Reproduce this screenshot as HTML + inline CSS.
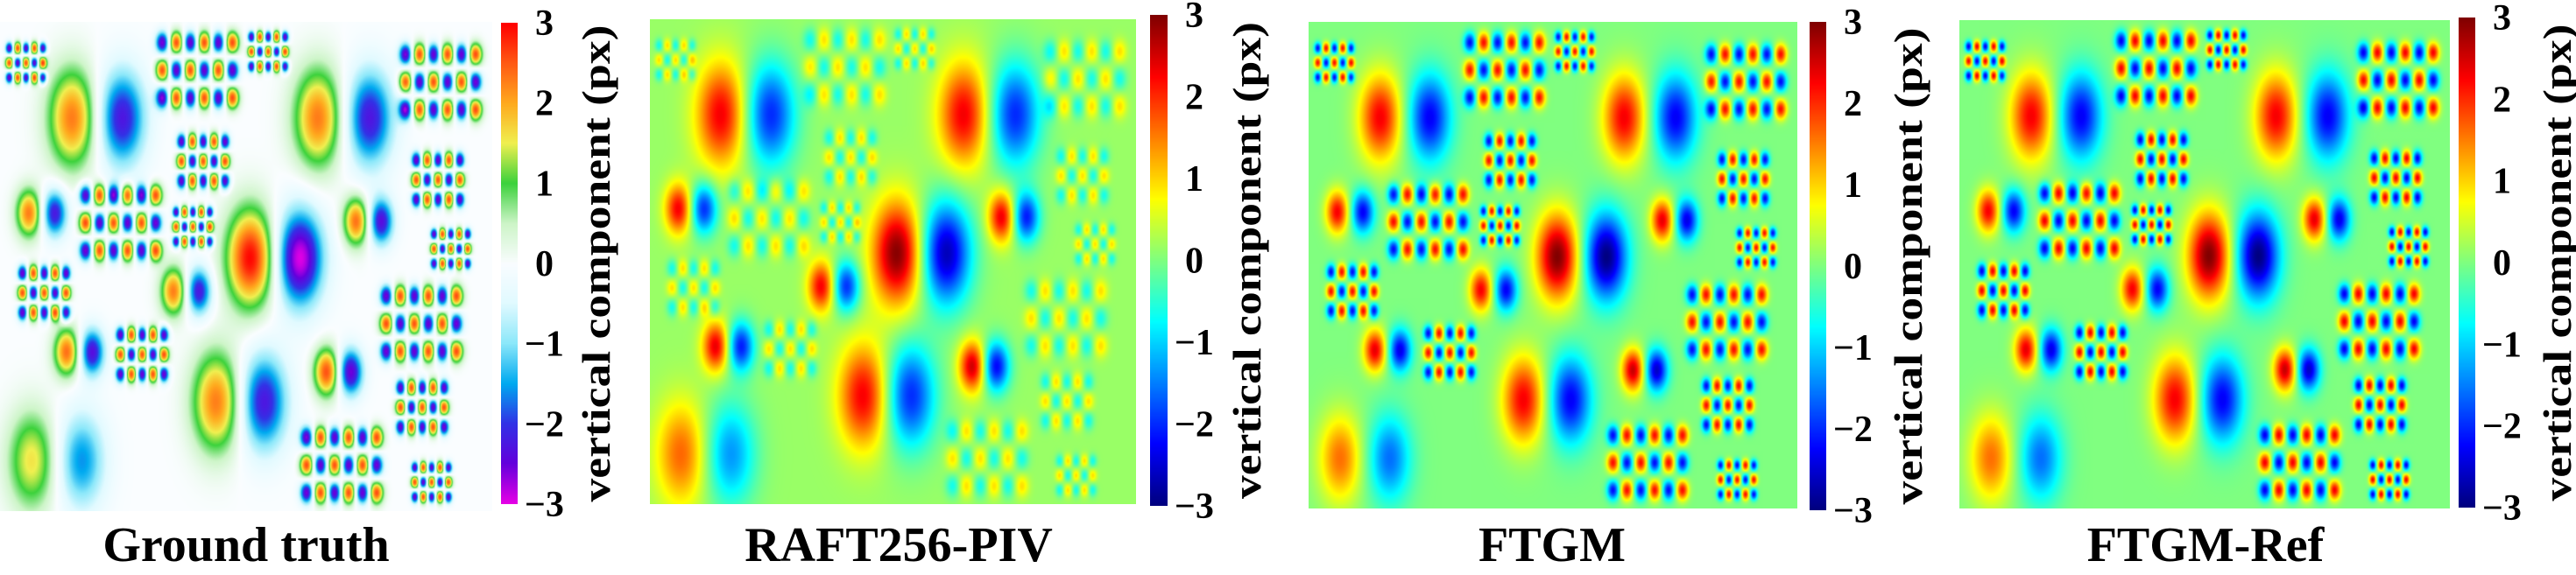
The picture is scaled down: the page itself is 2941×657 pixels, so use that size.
<!DOCTYPE html>
<html><head><meta charset="utf-8"><style>
body{margin:0;background:#fff;width:2941px;height:657px;position:relative;overflow:hidden}
canvas{position:absolute}
svg{position:absolute;left:0;top:0}
text{font-family:"Liberation Serif",serif;font-weight:bold;fill:#000}
</style></head><body>
<svg id="ov" width="2941" height="657"></svg>
<script>
// ---- data (normalized image coords) ----
const dipoleU=[0.146,0.645,0.508,0.439,0.064,0.058,0.723,0.352,0.135,0.663];
const dipoleSep=[0.101,0.105,0.100,0.096,0.101,0.052,0.050,0.051,0.051,0.048];
const dipoleV=[0.196,0.196,0.482,0.776,0.896,0.39,0.407,0.55,0.674,0.715];
const dipoleAmp=[2.3,2.3,3.0,2.3,1.6,2.3,2.4,2.3,2.4,2.6];
const dipoleBig=[1,1,1,1,1,0,0,0,0,0];
const gridU=[0.400,0.894,0.244,0.855,0.693,0.412,0.889,0.089,0.288,0.857,0.052,0.544,0.391,0.915,0.876];
const gridV=[0.098,0.122,0.41,0.616,0.905,0.284,0.322,0.553,0.679,0.787,0.083,0.06,0.418,0.463,0.94];
const gridKind=[0,0,0,0,0,1,1,1,1,1,2,2,2,2,2];
const tickVals=[3,2,1,0,-1,-2,-3];
const tickText=["3","2","1","0","\u22121","\u22122","\u22123"];
const titles=["Ground truth","RAFT256-PIV","FTGM","FTGM-Ref"];
const kindCols=[6,5,5],kindDx=[0.0284,0.022,0.017],kindDy=[0.0565,0.04,0.03],kindSu=[0.0085,0.0065,0.005],kindSv=[0.014,0.011,0.008];
const panels=[
 {img:[0,25,562,559],cb:[572,26,19,550],lab:680,tc:281,cmap:"gt",sg:1.12,ga:2.6,da:1.0,bg:0},
 {img:[742,22,555,554],cb:[1313,17,20,561],lab:1423,tc:1026,cmap:"jet",sg:1.2,ga:0.8,da:0.95,bg:0.15},
 {img:[1494,25,558,556],cb:[2066,25,19,558],lab:2178,tc:1772,cmap:"jet",sg:1,ga:2.2,da:1.0,bg:0},
 {img:[2237,23,560,558],cb:[2807,20,19,560],lab:2919,tc:2518,cmap:"jet",sg:1,ga:2.3,da:1.0,bg:0}];
function cl(x){return Math.max(0,Math.min(1,x));}
function jet(t){return [cl(1.5-Math.abs(4*t-3)),cl(1.5-Math.abs(4*t-2)),cl(1.5-Math.abs(4*t-1))].map(x=>x*255);}
const gtStops=[[230,0,230],[100,0,220],[50,50,230],[0,170,240],[140,232,250],[225,250,255],[250,253,255],[205,245,200],[60,210,60],[240,240,80],[255,170,30],[255,90,20],[255,0,0]];
function gt(t){const p=cl(t)*12,i=Math.min(11,Math.floor(p)),f=p-i,a=gtStops[i],b=gtStops[i+1];return [0,1,2].map(k=>a[k]+(b[k]-a[k])*f);}
const NS="http://www.w3.org/2000/svg",ov=document.getElementById('ov');
function txt(x,y,s,size,anchor,rot,len,name){const t=document.createElementNS(NS,'text');t.setAttribute('x',x);t.setAttribute('y',y);t.setAttribute('font-size',size);t.setAttribute('text-anchor',anchor);if(rot)t.setAttribute('transform',`rotate(-90 ${x} ${y})`);if(len){t.setAttribute('textLength',len);t.setAttribute('lengthAdjust','spacingAndGlyphs');}t.textContent=s;


ov.appendChild(t);}
panels.forEach((P,pi)=>{
 const [X,Y,W,H]=P.img;const cv=document.createElement('canvas');cv.width=W;cv.height=H;cv.style.left=X+'px';cv.style.top=Y+'px';
 
 
 document.body.appendChild(cv);
 const F=new Float32Array(W*H).fill(P.bg);
 function add(u,v,su,sv,a){const cx=u*W,cy=v*H,sx=su*W*P.sg,sy=sv*H*P.sg;const x0=Math.max(0,Math.floor(cx-3.5*sx)),x1=Math.min(W-1,Math.ceil(cx+3.5*sx)),y0=Math.max(0,Math.floor(cy-3.5*sy)),y1=Math.min(H-1,Math.ceil(cy+3.5*sy));
  for(let y=y0;y<=y1;y++){const dy=(y-cy)/sy;for(let x=x0;x<=x1;x++){const dx=(x-cx)/sx;F[y*W+x]+=a*Math.exp(-0.5*(dx*dx+dy*dy));}}}
 dipoleU.forEach((u,i)=>{const su=dipoleBig[i]?0.03:0.016,sv=dipoleBig[i]?0.062:0.03,a=dipoleAmp[i]*P.da;add(u,dipoleV[i],su,sv,a);add(u+dipoleSep[i],dipoleV[i],su,sv,-a);});
 gridU.forEach((u,g)=>{const k=gridKind[g],n=kindCols[k];for(let r=0;r<3;r++)for(let c=0;c<n;c++){const s=((r+c)%2===0)?-1:1;add(u+(c-(n-1)/2)*kindDx[k],gridV[g]+(r-1)*kindDy[k],kindSu[k],kindSv[k],s*P.ga);}});
 const ctx=cv.getContext('2d'),im=ctx.createImageData(W,H),cm=P.cmap==="gt"?gt:jet;
 for(let i=0;i<W*H;i++){const c=cm((F[i]+3)/6);im.data[i*4]=c[0];im.data[i*4+1]=c[1];im.data[i*4+2]=c[2];im.data[i*4+3]=255;}
 ctx.putImageData(im,0,0);
 const [cx,cy,cw,ch]=P.cb;const cb=document.createElement('canvas');cb.width=cw;cb.height=ch;cb.style.left=cx+'px';cb.style.top=cy+'px';
 
 
 document.body.appendChild(cb);const c2=cb.getContext('2d');
 for(let y=0;y<ch;y++){const c=cm(1-y/(ch-1));c2.fillStyle=`rgb(${c[0]|0},${c[1]|0},${c[2]|0})`;c2.fillRect(0,y,cw,1);}
 tickVals.forEach((v,i)=>{const y=cy+(3-v)/6*ch;txt(cx+cw+(v<0?8:20),y+14,tickText[i],42,'start',false,0,'colorbar-tick-'+pi);});
 txt(P.lab+16,cy+ch/2,'vertical component (px)',46,'middle',true,545,'colorbar-label-'+pi);
 txt(P.tc,641,titles[pi],56,'middle',false,0,'panel-title-'+pi);
});
</script>
</body></html>
